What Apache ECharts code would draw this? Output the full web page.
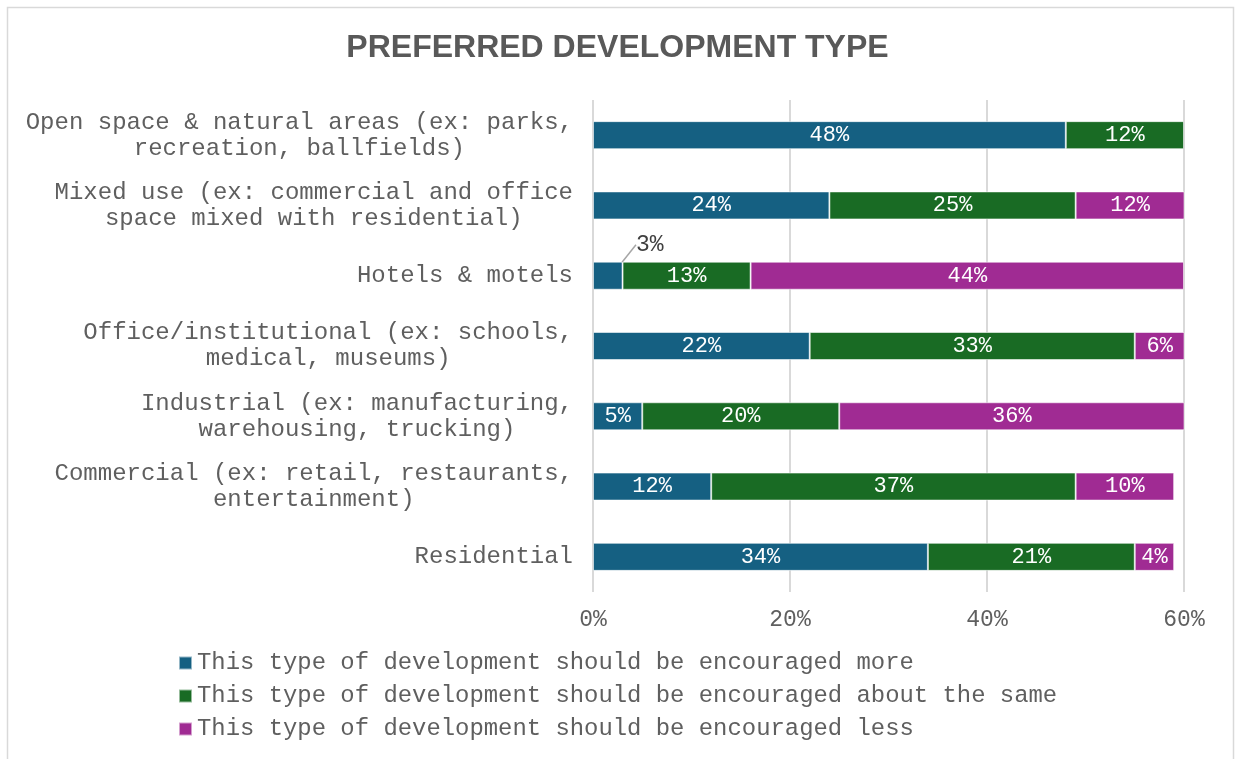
<!DOCTYPE html>
<html>
<head>
<meta charset="utf-8">
<title>Preferred Development Type</title>
<script src="https://cdn.jsdelivr.net/npm/echarts@6/dist/echarts.min.js"></script>
<style>
  html, body { margin: 0; padding: 0; background: #ffffff; }
  #chart { width: 1235px; height: 759px; }
</style>
</head>
<body>
<div id="chart"></div>
<script>
// Development types, listed bottom to top as they sit on the category axis
const categories = [
  'Residential',
  'Commercial (ex: retail, restaurants,\nentertainment)',
  'Industrial (ex: manufacturing,\nwarehousing, trucking)',
  'Office/institutional (ex: schools,\nmedical, museums)',
  'Hotels & motels',
  'Mixed use (ex: commercial and office\nspace mixed with residential)',
  'Open space & natural areas (ex: parks,\nrecreation, ballfields)'
];

const seriesNames = [
  'This type of development should be encouraged more',
  'This type of development should be encouraged about the same',
  'This type of development should be encouraged less'
];

// Share of respondents (%)
const encouragedMore = [34, 12, 5, 22, 3, 24, 48];
const encouragedSame = [21, 37, 20, 33, 13, 25, 12];
const encouragedLess = [4, 10, 36, 6, 44, 12, 0.3];

const xTicks = [0, 20, 40, 60];

const colors = ['#156082', '#196B24', '#A02B93'];
const mono = '"Liberation Mono", "Courier New", monospace';
const textGray = '#5f5f5f';

const chart = echarts.init(document.getElementById('chart'), null, { renderer: 'canvas' });

function barSeries(name, data, color, idx) {
  return {
    name: name,
    type: 'bar',
    stack: 'total',
    data: data,
    barWidth: 28,
    clip: true,
    itemStyle: {
      color: color,
      borderColor: 'rgba(255,255,255,0.55)',
      borderWidth: 1
    },
    label: {
      show: true,
      position: 'inside',
      fontFamily: mono,
      fontSize: 22,
      color: '#ffffff',
      formatter: function (p) { return p.value >= 1 ? p.value + '%' : ''; }
    },
    labelLine: {
      show: idx === 0,
      lineStyle: { color: '#a6a6a6', width: 1.5 }
    },
    labelLayout: idx === 0 ? function (p) {
      // small segment: move its label above the bar with a leader line
      if (p.dataIndex === 4) {
        return { dx: 42, dy: -31 };
      }
      return {};
    } : undefined
  };
}

const series = [
  barSeries(seriesNames[0], encouragedMore, colors[0], 0),
  barSeries(seriesNames[1], encouragedSame, colors[1], 1),
  barSeries(seriesNames[2], encouragedLess, colors[2], 2)
];
// the moved label sits on white, so it is drawn dark
series[0].data = encouragedMore.map(function (v, i) {
  return i === 4 ? { value: v, label: { color: '#404040', fontSize: 23 } } : v;
});

const option = {
  backgroundColor: '#ffffff',
  animation: false,
  color: colors,
  title: {
    text: 'PREFERRED DEVELOPMENT TYPE',
    left: 'center',
    top: 27,
    textStyle: {
      fontFamily: '"Liberation Sans", Arial, sans-serif',
      fontSize: 32,
      fontWeight: 'bold',
      color: '#595959'
    }
  },
  graphic: [{
    type: 'rect',
    shape: { x: 7.5, y: 7.5, width: 1226, height: 770 },
    style: { fill: 'none', stroke: '#d9d9d9', lineWidth: 1.5 },
    silent: true
  }],
  legend: {
    orient: 'vertical',
    left: 173,
    top: 646,
    itemWidth: 13,
    itemHeight: 13,
    itemGap: 9,
    icon: 'rect',
    data: seriesNames,
    textStyle: {
      fontFamily: mono,
      fontSize: 23.9,
      color: textGray
    }
  },
  grid: {
    left: 593,
    right: 51,
    top: 100,
    bottom: 167,
    containLabel: false
  },
  xAxis: {
    type: 'value',
    min: xTicks[0],
    max: xTicks[xTicks.length - 1],
    interval: xTicks[1] - xTicks[0],
    axisLine: { show: false },
    axisTick: { show: false },
    splitLine: { show: true, lineStyle: { color: '#d9d9d9', width: 2 } },
    axisLabel: {
      margin: 16,
      fontFamily: mono,
      fontSize: 23,
      color: textGray,
      formatter: '{value}%'
    }
  },
  yAxis: {
    type: 'category',
    data: categories,
    axisLine: { show: false },
    axisTick: { show: false },
    axisLabel: {
      margin: 20,
      align: 'right',
      formatter: function (v) { return '{c|' + v.split('\n').join('}\n{c|') + '}'; },
      rich: {
        c: {
          align: 'center',
          fontFamily: mono,
          fontSize: 24,
          lineHeight: 26,
          color: textGray
        }
      }
    }
  },
  series: series
};

chart.setOption(option);
</script>
</body>
</html>
